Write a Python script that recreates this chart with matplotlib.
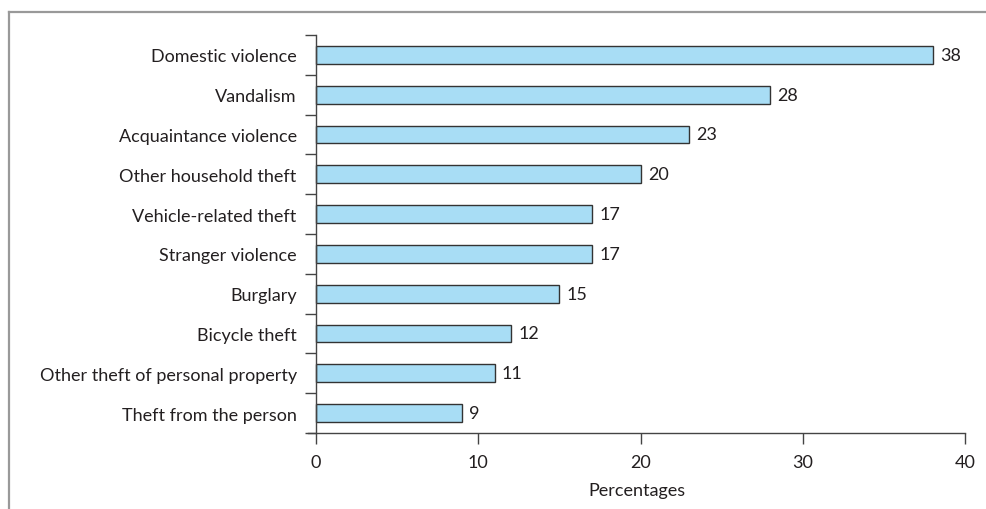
import matplotlib.pyplot as plt
from matplotlib.lines import Line2D

# Data
categories = ['Domestic violence', 'Vandalism', 'Acquaintance violence',
              'Other household theft', 'Vehicle-related theft', 'Stranger violence',
              'Burglary', 'Bicycle theft', 'Other theft of personal property',
              'Theft from the person']
values = [38, 28, 23, 20, 17, 17, 15, 12, 11, 9]
xticks = [0, 10, 20, 30, 40]

plt.rcParams['font.family'] = ['Lato', 'DejaVu Sans']
text_color = '#231f20'
axis_color = '#444444'
fs = 13

fig = plt.figure(figsize=(9.87, 5.10), dpi=100)
ax = fig.add_axes([308 / 987, 1 - 434 / 510, (965 - 308) / 987, (434 - 36) / 510])

y = list(range(len(categories)))
ax.barh(y, values, height=0.45, color='#a8ddf5', edgecolor='#333333', linewidth=1.0)

for yi, v in zip(y, values):
    ax.text(v + 0.45, yi, str(v), va='center', ha='left', fontsize=fs, color=text_color)

ax.set_xlim(-0.5, 40)
ax.set_ylim(len(categories) - 0.5, -0.5)

ax.spines['top'].set_visible(False)
ax.spines['right'].set_visible(False)
ax.spines['left'].set_position(('data', 0))
for s in ('left', 'bottom'):
    ax.spines[s].set_color(axis_color)
    ax.spines[s].set_linewidth(1.0)

# category labels at bar centres, ticks at the boundaries
ax.set_yticks(y)
ax.set_yticklabels(categories, fontsize=fs, color=text_color)
ax.tick_params(axis='y', which='major', length=0, pad=14)
ax.set_yticks([i - 0.5 for i in range(len(categories) + 1)], minor=True)
ax.tick_params(axis='y', which='minor', length=8, color=axis_color, width=1.0)

ax.set_xticks(xticks)
ax.set_xticklabels([str(t) for t in xticks], fontsize=fs, color=text_color)
ax.tick_params(axis='x', length=8, color=axis_color, width=1.0, pad=7)
ax.set_xlabel('Percentages', fontsize=fs, color=text_color, labelpad=9)

# grey frame on the top and left edges
fig.add_artist(Line2D([9 / 987, 9 / 987], [0, 1 - 13 / 510], transform=fig.transFigure,
                      color='#999999', linewidth=1.6))
fig.add_artist(Line2D([9 / 987, 1], [1 - 13 / 510, 1 - 13 / 510], transform=fig.transFigure,
                      color='#999999', linewidth=1.6))

fig.savefig('out.png', dpi=100)
